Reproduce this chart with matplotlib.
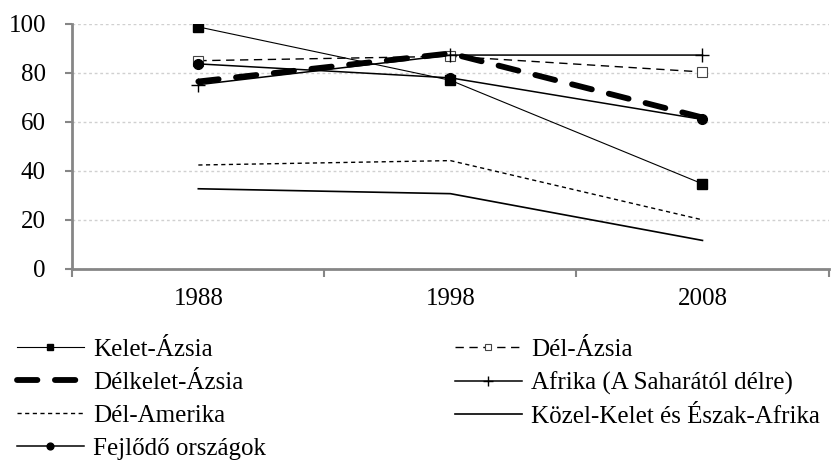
import matplotlib
matplotlib.use('Agg')
import matplotlib.pyplot as plt

# years on the x axis
years = ['1988', '1998', '2008']

# series values
kelet_azsia = [98.8, 77.0, 34.7]
del_azsia = [85.0, 86.8, 80.4]
delkelet_azsia = [76.5, 88.0, 61.8]
afrika = [75.2, 87.3, 87.3]
del_amerika = [42.4, 44.2, 20.0]
kozel_kelet = [32.7, 30.7, 11.6]
fejlodo = [83.7, 78.0, 61.0]

labels = ['Kelet-Ázsia', 'Dél-Ázsia', 'Délkelet-Ázsia', 'Afrika (A Saharától délre)',
          'Dél-Amerika', 'Közel-Kelet és Észak-Afrika', 'Fejlődő országok']

plt.rcParams['font.family'] = ['Liberation Serif', 'DejaVu Serif']

fig = plt.figure(figsize=(8.31, 4.70), dpi=100)
ax = fig.add_axes([0.087, 0.428, 0.91, 0.521])

x = list(range(len(years)))

l_kelet, = ax.plot(x, kelet_azsia, color='black', lw=0.8, marker='s', ms=7,
                   mfc='black', mec='black')
l_dazsia, = ax.plot(x, del_azsia, color='black', lw=1.0, dashes=(6, 4), marker='s', ms=7,
                    mfc='white', mec='#444444', mew=0.8)
l_delk, = ax.plot(x, delkelet_azsia, color='black', lw=4.2, dashes=(3.5, 3), dash_capstyle='round')
l_afr, = ax.plot(x, afrika, color='black', lw=1.1, marker='+', ms=10, mew=1.0)
l_dam, = ax.plot(x, del_amerika, color='black', lw=1.0, dashes=(3, 2.5))
l_kozel, = ax.plot(x, kozel_kelet, color='black', lw=1.2)
l_fej, = ax.plot(x, fejlodo, color='black', lw=1.1, marker='o', ms=7)

ax.set_xlim(-0.5, 2.5)
ax.set_ylim(0, 100)
ax.set_yticks([0, 20, 40, 60, 80, 100])
ax.yaxis.grid(True, color='#d0d0d0', lw=1.0, ls=(0, (2, 2)))
ax.set_axisbelow(True)

ax.set_xticks(x)
ax.set_xticklabels(years)
ax.set_xticks([-0.5, 0.5, 1.5, 2.5], minor=True)
ax.tick_params(axis='x', which='major', length=0, pad=14, labelsize=18)
ax.tick_params(axis='x', which='minor', length=6, width=1.5, color='#868686', direction='out')
ax.tick_params(axis='y', length=5, width=1.5, color='#868686', pad=14, labelsize=18)

for s in ['top', 'right']:
    ax.spines[s].set_visible(False)
for s in ['left', 'bottom']:
    ax.spines[s].set_color('#868686')
    ax.spines[s].set_linewidth(2)

# legend split into two columns, left column has 4 entries
leg_kw = dict(loc='upper left', frameon=False, fontsize=18, handlelength=2.7,
              handletextpad=0.35, labelspacing=0.42, borderpad=0, borderaxespad=0,
              markerscale=0.7)
fig.legend([l_kelet, l_delk, l_dam, l_fej],
           [labels[0], labels[2], labels[4], labels[6]],
           bbox_to_anchor=(0.02, 0.28), **leg_kw)
fig.legend([l_dazsia, l_afr, l_kozel],
           [labels[1], labels[3], labels[5]],
           bbox_to_anchor=(0.547, 0.28), **leg_kw)

fig.savefig('out.png', dpi=100)
